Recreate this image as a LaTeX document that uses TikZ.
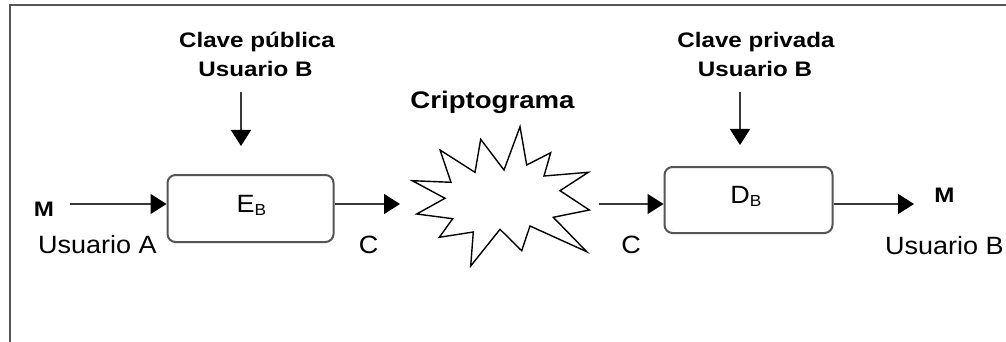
\documentclass[tikz,border=0pt]{standalone}
\usepackage{fontspec}
\setmainfont{Liberation Sans}
\newfontfamily\boldwide[FakeStretch=1.15]{Liberation Sans}
\newfontfamily\regwide[FakeStretch=1.08]{Liberation Sans}
\usetikzlibrary{arrows.meta}
\definecolor{edgegray}{HTML}{555555}
\definecolor{linegray}{HTML}{383838}
\tikzset{
  frameline/.style={draw=edgegray, line width=2pt},
  procbox/.style={draw=edgegray, line width=2pt, rounded corners=8pt, fill=white,
    minimum width=166pt, minimum height=67pt, inner sep=0pt},
  flow/.style={draw=linegray, line width=1.6pt,
    -{Triangle[length=16pt, width=20pt, color=black, fill=black]}},
  burst/.style={draw=black, line width=1.4pt, line join=miter, fill=white},
  keytext/.style={anchor=base, inner sep=0pt, font=\boldwide\bfseries\fontsize{21}{25}\selectfont},
  titletext/.style={anchor=base, inner sep=0pt, font=\boldwide\bfseries\fontsize{24}{28}\selectfont},
  msgtext/.style={anchor=base, inner sep=0pt, font=\boldwide\bfseries\fontsize{21}{25}\selectfont},
  plaintext/.style={anchor=base, inner sep=0pt, font=\regwide\fontsize{25}{30}\selectfont},
}
\newcommand{\subB}{\raisebox{-3pt}{\fontsize{16}{16}\selectfont B}}
\begin{document}
\begin{tikzpicture}[x=1pt, y=-1pt]
  \useasboundingbox (0,0) rectangle (1006,342);
  \fill[white] (0,0) rectangle (1006,342);

  % outer frame (only the left and top sides are inside the page)
  \draw[frameline] (10,342) -- (10,5) -- (1010,5);

  % encryption and decryption blocks
  \node[procbox] (encbox) at (250.5,208.5) {};
  \node[procbox, minimum height=66pt, minimum width=168pt] (decbox) at (748.5,200) {};
  \node[plaintext] (elabel) at (251.5,212) {E\subB};
  \node[plaintext] (dlabel) at (746,203) {D\subB};

  % key labels
  \node[keytext] (pubkey1) at (257,48) {Clave pública};
  \node[keytext] (pubkey2) at (255.5,77) {Usuario B};
  \node[keytext] (privkey1) at (756,48) {Clave privada};
  \node[keytext] (privkey2) at (755,77) {Usuario B};
  \node[titletext] (crypto) at (492.5,109) {Criptograma};

  % messages and users
  \node[msgtext] (msgin) at (44,216) {M};
  \node[msgtext] (msgout) at (944.5,202) {M};
  \node[plaintext] (userA) at (97.5,253) {Usuario A};
  \node[plaintext, anchor=base west] (userB) at (885,254) {Usuario B};
  \node[plaintext] (cleft) at (368.5,253) {C};
  \node[plaintext] (cright) at (631,253) {C};

  % ciphertext burst
  \draw[burst]
    (412.3,180.7) -- (451,182.3) -- (440,150) -- (475,172.3) -- (480.7,139.3)
    -- (504,170) -- (520,126.7) -- (526.7,165) -- (550.7,152.7) -- (544,176)
    -- (588.3,172.3) -- (560,190.7) -- (589.3,210) -- (553.3,217.3)
    -- (586.7,251.7) -- (530,226) -- (521.7,250.7) -- (500,229.3)
    -- (470.7,266) -- (473.3,232) -- (439.3,237.3) -- (452.7,218.7)
    -- (416.7,214) -- (445,198.3) -- cycle;
  \coordinate (burstin) at (400,204);
  \coordinate (burstout) at (599,204);

  % connector ends
  \coordinate (srcA) at (70,204);
  \coordinate (dstB) at (914,204);
  \coordinate (pubfrom) at (241,92);
  \coordinate (pubto) at (241,146);
  \coordinate (privfrom) at (740,92);
  \coordinate (privto) at (740,145);

  % data flow
  \draw[flow] (srcA) -- (srcA -| encbox.west);
  \draw[flow] (encbox.east |- srcA) -- (burstin);
  \draw[flow] (burstout) -- (burstout -| decbox.west);
  \draw[flow] (decbox.east |- dstB) -- (dstB);

  % keys
  \draw[flow] (pubfrom) -- (pubto);
  \draw[flow] (privfrom) -- (privto);
\end{tikzpicture}
\end{document}
